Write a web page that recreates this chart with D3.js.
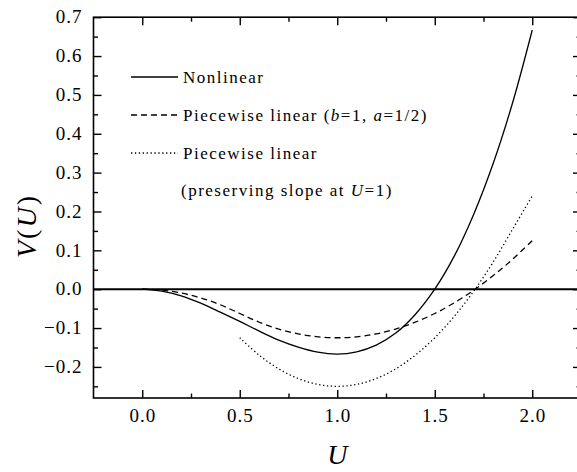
<!DOCTYPE html>
<html>
<head>
<meta charset="utf-8">
<script src="https://cdn.jsdelivr.net/npm/d3@7/dist/d3.min.js"></script>
<style>
  body { margin: 0; background: #fff; }
  svg { display: block; font-family: "Liberation Serif", "Times New Roman", serif; }
  .tick line { stroke: #000; stroke-width: 1.4; }
  .tick text { font-family: "Liberation Serif", "Times New Roman", serif; font-size: 19px; letter-spacing: 1px; fill: #000; }
</style>
</head>
<body>
<svg id="chart" width="577" height="472"></svg>
<script>
  // values
  const uNonlinear = [0, 0.1, 0.2, 0.3, 0.4, 0.5, 0.6, 0.7, 0.8, 0.9, 1.0, 1.1, 1.2, 1.3, 1.4, 1.5, 1.6, 1.7, 1.8, 1.9, 2.0];
  const vNonlinear = [0, -0.005, -0.017, -0.036, -0.059, -0.083, -0.108, -0.131, -0.149, -0.162, -0.167, -0.161, -0.144, -0.113, -0.065, 0, 0.085, 0.193, 0.324, 0.481, 0.667];

  const uPiecewise = [0, 0.1, 0.2, 0.3, 0.4, 0.5, 0.6, 0.7, 0.8, 0.9, 1.0, 1.1, 1.2, 1.3, 1.4, 1.5, 1.6, 1.7, 1.8, 1.9, 2.0];
  const vPiecewise = [0, -0.0025, -0.01, -0.0225, -0.04, -0.0625, -0.085, -0.1025, -0.115, -0.1225, -0.125, -0.1225, -0.115, -0.1025, -0.085, -0.0625, -0.035, -0.0025, 0.035, 0.0775, 0.125];

  const uSlope = [0.5, 0.6, 0.7, 0.8, 0.9, 1.0, 1.1, 1.2, 1.3, 1.4, 1.5, 1.6, 1.7, 1.8, 1.9, 2.0];
  const vSlope = [-0.125, -0.17, -0.205, -0.23, -0.245, -0.25, -0.245, -0.23, -0.205, -0.17, -0.125, -0.07, -0.005, 0.07, 0.155, 0.24];

  const xMajor = [0, 0.5, 1.0, 1.5, 2.0];
  const xMinor = [0.25, 0.75, 1.25, 1.75];
  const yMajor = [-0.2, -0.1, 0, 0.1, 0.2, 0.3, 0.4, 0.5, 0.6, 0.7];
  const yMinor = [-0.25, -0.15, -0.05, 0.05, 0.15, 0.25, 0.35, 0.45, 0.55, 0.65];

  const svg = d3.select('#chart');
  const x = d3.scaleLinear().domain([-0.25, 2.25]).range([93.5, 581]);
  const y = d3.scaleLinear().domain([-0.28, 0.7]).range([398, 17.2]);
  const fmt = d3.format('.1f');

  // d3 puts sans-serif/10px on axis groups; drop that so the serif font wins
  function plain(g) {
    g.attr('font-family', null).attr('font-size', null);
    g.select('.domain').remove();
    return g;
  }

  // minor ticks first, majors on top
  function minorAxis(axis, vals, tf) {
    plain(svg.append('g').attr('transform', tf)
      .call(axis.tickValues(vals).tickSize(-4.5).tickFormat('')));
  }
  minorAxis(d3.axisBottom(x), xMinor, `translate(0,${y.range()[0]})`);
  minorAxis(d3.axisTop(x), xMinor, `translate(0,${y.range()[1]})`);
  minorAxis(d3.axisLeft(y), yMinor, `translate(${x.range()[0]},0)`);
  minorAxis(d3.axisRight(y), yMinor, `translate(${x.range()[1]},0)`);

  const gx = plain(svg.append('g').attr('transform', `translate(0,${y.range()[0]})`)
    .call(d3.axisBottom(x).tickValues(xMajor).tickSize(-8).tickFormat(fmt)));
  gx.selectAll('text').attr('y', 24).attr('dy', 0);

  const gy = plain(svg.append('g').attr('transform', `translate(${x.range()[0]},0)`)
    .call(d3.axisLeft(y).tickValues(yMajor).tickSize(-8).tickFormat(fmt)));
  gy.selectAll('text').attr('x', -11).attr('dy', '0.3em');

  plain(svg.append('g').attr('transform', `translate(0,${y.range()[1]})`)
    .call(d3.axisTop(x).tickValues(xMajor).tickSize(-8).tickFormat('')));
  plain(svg.append('g').attr('transform', `translate(${x.range()[1]},0)`)
    .call(d3.axisRight(y).tickValues(yMajor).tickSize(-8).tickFormat('')));

  // frame
  svg.append('rect')
    .attr('x', x.range()[0]).attr('y', y.range()[1])
    .attr('width', x.range()[1] - x.range()[0]).attr('height', y.range()[0] - y.range()[1])
    .attr('fill', 'none').attr('stroke', '#000').attr('stroke-width', 1.6);

  // V = 0 line
  svg.append('line')
    .attr('x1', x.range()[0]).attr('x2', x.range()[1])
    .attr('y1', y(0)).attr('y2', y(0))
    .attr('stroke', '#000').attr('stroke-width', 2);

  const line = d3.line().x(d => x(d[0])).y(d => y(d[1])).curve(d3.curveCatmullRom.alpha(0.5));
  const series = [
    { u: uNonlinear, v: vNonlinear, dash: null },
    { u: uPiecewise, v: vPiecewise, dash: '6,4' },
    { u: uSlope, v: vSlope, dash: '1.3,2.6' }
  ];
  series.forEach(s => {
    svg.append('path')
      .attr('d', line(d3.zip(s.u, s.v)))
      .attr('fill', 'none').attr('stroke', '#000').attr('stroke-width', 1.3)
      .attr('stroke-dasharray', s.dash);
  });

  // legend
  const legend = svg.append('g').attr('font-size', 17).attr('letter-spacing', 1.5);
  const rows = [
    { y: 77, dash: null, parts: [['Nonlinear']] },
    { y: 115, dash: '6,4', parts: [['Piecewise linear ('], ['b', 1], ['=1, '], ['a', 1], ['=1/2)']] },
    { y: 153, dash: '1.3,2.6', parts: [['Piecewise linear']] },
    { y: 190, dash: 'none', parts: [['(preserving slope at '], ['U', 1], ['=1)']] }
  ];
  rows.forEach(r => {
    if (r.dash !== 'none') {
      legend.append('line').attr('x1', 131).attr('x2', 178).attr('y1', r.y).attr('y2', r.y)
        .attr('stroke', '#000').attr('stroke-width', 1.3).attr('stroke-dasharray', r.dash);
    }
    const t = legend.append('text').attr('x', r.dash === 'none' ? 181 : 183).attr('y', r.y + 6);
    r.parts.forEach(p => {
      t.append('tspan').attr('font-style', p[1] ? 'italic' : null).text(p[0]);
    });
  });

  // axis titles
  const yt = svg.append('text').attr('transform', 'translate(36,226) rotate(-90)')
    .attr('text-anchor', 'middle').attr('font-size', 28).attr('letter-spacing', 2);
  yt.append('tspan').attr('font-style', 'italic').text('V');
  yt.append('tspan').text('(');
  yt.append('tspan').attr('font-style', 'italic').text('U');
  yt.append('tspan').text(')');

  svg.append('text').attr('x', x(1.0)).attr('y', 464)
    .attr('text-anchor', 'middle').attr('font-size', 28).attr('font-style', 'italic').text('U');
</script>
</body>
</html>
